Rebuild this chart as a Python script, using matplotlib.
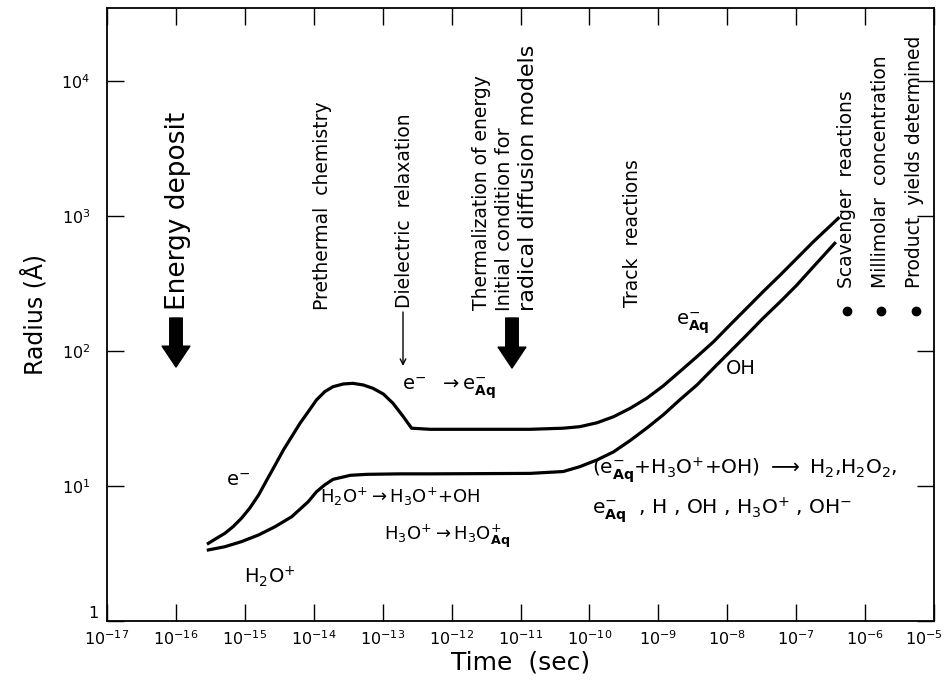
import numpy as np
import matplotlib
matplotlib.use('Agg')
import matplotlib.pyplot as plt
import matplotlib.transforms as mtransforms

# e- / e-aq curve (upper), time as log10(sec), radius in Angstrom
upper_t_exp = [-15.53, -15.41, -15.29, -15.17, -15.05, -14.93, -14.80, -14.68, -14.56,
               -14.44, -14.32, -14.20, -14.08, -13.96, -13.84, -13.72, -13.57, -13.43,
               -13.28, -13.14, -12.99, -12.85, -12.70, -12.58, -12.31, -10.86, -10.38,
               -10.14, -9.89, -9.65, -9.41, -9.17, -8.93, -8.69, -8.44, -8.20,
               -7.96, -7.72, -7.48, -7.23, -6.99, -6.75, -6.39]
upper_r = [3.76, 4.10, 4.46, 5.00, 5.76, 6.84, 8.58, 11.1, 14.3,
           18.5, 23.2, 29.1, 35.5, 43.4, 50.0, 54.4, 57.0, 57.6,
           56.0, 52.9, 48.0, 41.0, 32.6, 26.8, 26.3, 26.3, 26.8,
           27.5, 29.4, 32.6, 37.6, 44.6, 55.1, 70.3, 90.8, 117,
           156, 207, 275, 366, 486, 645, 961]

# H2O+ / OH curve (lower)
lower_t_exp = [-15.53, -15.29, -15.05, -14.80, -14.56, -14.32, -14.08, -13.96, -13.84,
               -13.72, -13.47, -13.23, -12.75, -12.31, -10.86, -10.38, -10.14, -9.89,
               -9.65, -9.41, -9.17, -8.93, -8.69, -8.44, -8.20, -7.96, -7.72,
               -7.48, -7.23, -6.99, -6.75, -6.44]
lower_r = [3.36, 3.55, 3.87, 4.34, 5.00, 5.92, 7.65, 9.07, 10.2,
           11.2, 12.0, 12.2, 12.3, 12.3, 12.4, 12.8, 13.9, 15.6,
           17.9, 21.7, 26.8, 33.6, 43.4, 56.0, 74.5, 98.8, 131,
           175, 232, 308, 421, 628]

x_ticks = [10.0 ** e for e in range(-17, -4)]
x_labels = [r'$10^{%d}$' % e for e in range(-17, -4)]
y_ticks = [1, 10, 100, 1000, 10000]
y_labels = ['1', r'$10^{1}$', r'$10^{2}$', r'$10^{3}$', r'$10^{4}$']

plt.rcParams['font.family'] = ['DejaVu Sans']
plt.rcParams['mathtext.fontset'] = 'dejavusans'

W, H = 946, 683
fig = plt.figure(figsize=(W / 100, H / 100), dpi=100)
L, R, T, B = 107, 934, 8, 621
ax = fig.add_axes([L / W, 1 - B / H, (R - L) / W, (B - T) / H])
ax.set_xscale('log')
ax.set_yscale('log')
ax.set_xlim(1e-17, 1e-5)
ax.set_ylim(1, 10 ** ((B - T) / 135))


def at(px, py):
    # pixel position in the picture -> data coordinates
    return (10 ** (-17 + (px - L) / ((R - L) / 12)), 10 ** ((B - py) / 135))


ax.plot(10 ** np.array(upper_t_exp), upper_r, color='black', lw=2.3,
        solid_joinstyle='round')
ax.plot(10 ** np.array(lower_t_exp), lower_r, color='black', lw=2.3,
        solid_joinstyle='round')

ax.set_xticks(x_ticks)
ax.set_xticklabels(x_labels)
ax.set_yticks(y_ticks)
ax.set_yticklabels(y_labels)
ax.minorticks_off()
ax.tick_params(which='major', direction='in', length=12, width=1.0,
               top=True, right=True, labelsize=11.5)
ax.tick_params(axis='x', pad=6)
ax.tick_params(axis='y', pad=12)
for s in ax.spines.values():
    s.set_linewidth(1.3)
# keep the last time label inside the picture
last = ax.get_xticklabels()[-1]
last.set_transform(last.get_transform() +
                   mtransforms.ScaledTranslation(-10 / 100, 0, fig.dpi_scale_trans))
# the "1" label sits a bit above the axis line
first = ax.get_yticklabels()[0]
first.set_transform(first.get_transform() +
                    mtransforms.ScaledTranslation(8 / 100, 9 / 100, fig.dpi_scale_trans))

ax.set_xlabel('Time  (sec)', fontsize=18, labelpad=2)
ax.set_ylabel('Radius (Å)', fontsize=17, labelpad=10)


# rotated phase labels, anchored at the bottom end of the text
def vtext(px, py, s, size, **kw):
    ax.text(*at(px, py), s, rotation=90, rotation_mode='anchor',
            ha='left', va='center', fontsize=size, **kw)


vtext(178, 310, 'Energy deposit', 19)
vtext(323, 310, 'Prethermal  chemistry', 13.5)
vtext(405, 308, 'Dielectric  relaxation', 13.5)
vtext(482, 310, 'Thermalization of energy', 13.5)
vtext(505, 311, 'Initial condition for', 14)
vtext(528, 311, 'radical diffusion models', 16)
vtext(632, 307, 'Track  reactions', 13.5)
vtext(847, 288, 'Scavenger  reactions', 13.5)
vtext(881, 288, 'Millimolar  concentration', 13.5)
vtext(914, 288, 'Product  yields determined', 13.5)
for bx in [847, 881, 916]:
    ax.plot(*at(bx, 311), 'o', color='black', ms=6)

# block arrows
for ax_px, y0, y1 in [(176, 318, 367), (512, 318, 368)]:
    ax.annotate('', xy=at(ax_px, y1), xytext=at(ax_px, y0),
                arrowprops=dict(arrowstyle='simple,head_width=1.0,head_length=0.75,tail_width=0.45',
                                color='black', mutation_scale=20, shrinkA=0, shrinkB=0))
# thin arrow for dielectric relaxation
ax.annotate('', xy=at(403, 366), xytext=at(403, 312),
            arrowprops=dict(arrowstyle='->', color='black', lw=1.0, shrinkA=0, shrinkB=0))

# species labels
ax.text(*at(226, 480), r'e$^{-}$', fontsize=14, va='center')
ax.text(*at(244, 577), r'H$_2$O$^{+}$', fontsize=14, va='center')
ax.text(*at(402, 388), r'e$^{-}$  $\rightarrow$e$^{-}_{\mathbf{Aq}}$', fontsize=14, va='center')
ax.text(*at(320, 497), r'H$_2$O$^{+}$$\rightarrow$H$_3$O$^{+}$+OH', fontsize=13, va='center')
ax.text(*at(384, 536), r'H$_3$O$^{+}$$\rightarrow$H$_3$O$^{+}_{\mathbf{Aq}}$', fontsize=13, va='center')
ax.text(*at(676, 323), r'e$^{-}_{\mathbf{Aq}}$', fontsize=14, va='center')
ax.text(*at(726, 368), 'OH', fontsize=14, va='center')
ax.text(*at(592, 470), r'(e$^{-}_{\mathbf{Aq}}$+H$_3$O$^{+}$+OH) $\longrightarrow$ H$_2$,H$_2$O$_2$,',
        fontsize=14.5, va='center')
ax.text(*at(592, 510), r'e$^{-}_{\mathbf{Aq}}$  , H , OH , H$_3$O$^{+}$ , OH$^{-}$',
        fontsize=14.5, va='center')

fig.savefig('out.png', dpi=100)
